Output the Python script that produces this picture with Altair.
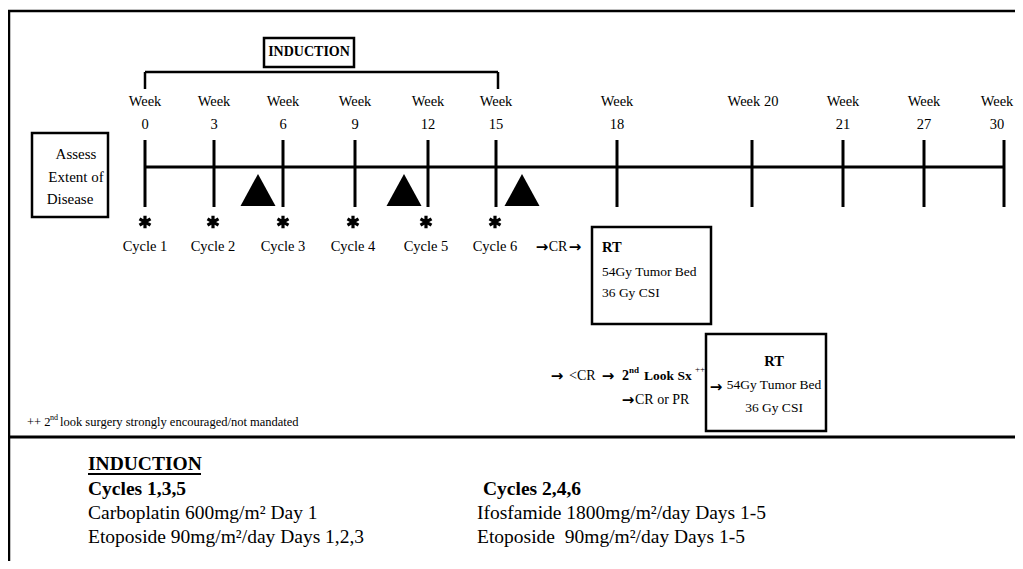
import altair as alt
import pandas as pd

# ---------------- data (diagram coordinates = reference pixels) ----------------
week_nums = ["0", "3", "6", "9", "12", "15", "18", "20", "21", "27", "30"]
week_x = [145, 214, 283, 355, 428, 496, 617, 752, 843, 924, 1004]
cycle_labels = ["Cycle 1", "Cycle 2", "Cycle 3", "Cycle 4", "Cycle 5", "Cycle 6"]
cycle_x = [145, 213, 283, 353, 426, 495]
triangle_x = [258, 404, 522]

assess_lines = ["Assess", "Extent of", "Disease"]
rt_lines = ["RT", "54Gy Tumor Bed", "36 Gy CSI"]
cycles_135 = ["Cycles 1,3,5", "Carboplatin 600mg/m² Day 1", "Etoposide 90mg/m²/day Days 1,2,3"]
cycles_246 = ["Cycles 2,4,6", "Ifosfamide 1800mg/m²/day Days 1-5", "Etoposide\u00a0 90mg/m²/day Days 1-5"]
footnote = ["++ 2", "nd", "look surgery strongly encouraged/not mandated"]

# arrows (heavy) : x centre, y
arrow_x = [542, 575, 557, 608, 628, 716]
arrow_y = [247, 247, 376, 376, 400, 387]

# ---------------- tables ----------------
rules = []  # x1, y1, x2, y2, width
rules += [(8, 11, 1023, 11, 2.5), (9, 11, 9, 569, 2.5), (9, 437, 1023, 437, 3)]
rules += [(week_x[0], 167, week_x[-1], 167, 3)]
rules += [(wx, 140, wx, 207, 3) for wx in week_x]
rules += [(145, 72, 498, 72, 2.5), (145, 72, 145, 89, 2.5), (498, 72, 498, 89, 2.5)]
rules += [(88, 474, 201, 474, 2)]
rules_df = pd.DataFrame(rules, columns=["x1", "y1", "x2", "y2", "w"])

boxes_df = pd.DataFrame(
    [(264, 38, 354, 67), (32, 133, 108, 217), (592, 227, 711, 324), (706, 334, 826, 431)],
    columns=["x1", "y1", "x2", "y2"],
)

star_df = pd.DataFrame({"x": cycle_x, "y": [222] * len(cycle_x)})
tri_df = pd.DataFrame({"x": triangle_x, "y": [190] * len(triangle_x)})
arrow_df = pd.DataFrame({"x": arrow_x, "y": arrow_y, "t": ["→"] * len(arrow_x)})

texts = []  # text, x, y, size, align, bold
for n, wx in zip(week_nums, week_x):
    lx = 997 if n == "30" else wx
    if n == "20":
        texts.append(("Week 20", 753, 102, 14.5, "center", False))
    else:
        texts.append(("Week", lx, 102, 14.5, "center", False))
        texts.append((n, lx, 125, 14.5, "center", False))
for c, cx in zip(cycle_labels, cycle_x):
    texts.append((c, cx, 247, 14.5, "center", False))
for t, (ax, ay) in zip(assess_lines, [(76, 154), (76, 177), (70, 199)]):
    texts.append((t, ax, ay, 15, "center", False))
texts.append(("INDUCTION", 309, 52, 14, "center", True))
texts.append(("CR", 558, 247, 14, "center", False))
# RT box 1
texts.append((rt_lines[0], 602, 248, 14.5, "left", True))
texts.append((rt_lines[1], 602, 272, 13.5, "left", False))
texts.append((rt_lines[2], 602, 293, 13.5, "left", False))
# second-look row
texts.append(("<CR", 569, 376, 14, "left", False))
texts.append(("2", 622, 376, 14, "left", True))
texts.append(("nd", 629, 370, 9, "left", True))
texts.append(("Look Sx", 644, 376, 13.5, "left", True))
texts.append(("++", 695, 369, 9, "left", False))
texts.append(("CR or PR", 635, 400, 14, "left", False))
# RT box 2
texts.append((rt_lines[0], 774, 362, 14.5, "center", True))
texts.append((rt_lines[1], 774, 385, 13.5, "center", False))
texts.append((rt_lines[2], 774, 408, 13.5, "center", False))
# footnote
texts.append((footnote[0], 27, 422, 12.5, "left", False))
texts.append((footnote[1], 50, 418, 8, "left", False))
texts.append((footnote[2], 60, 422, 12.5, "left", False))
# bottom regimen
texts.append(("INDUCTION", 88, 464, 19.5, "left", True))
for i, ty in enumerate([489, 513, 537]):
    texts.append((cycles_135[i], 88, ty, 19.5, "left", i == 0))
    texts.append((cycles_246[i], 483 if i == 0 else 477, ty, 19.5, "left", i == 0))
text_df = pd.DataFrame(texts, columns=["t", "x", "y", "s", "align", "bold"])

# ---------------- chart ----------------
xs = alt.Scale(domain=[8, 1015], nice=False, zero=False)
ys = alt.Scale(domain=[8, 561], nice=False, zero=False, reverse=True)

X = lambda f: alt.X(f, type="quantitative", scale=xs, axis=None)
Y = lambda f: alt.Y(f, type="quantitative", scale=ys, axis=None)

rule_layer = alt.Chart(rules_df).mark_rule(color="black", strokeCap="butt").encode(
    x=X("x1"), y=Y("y1"), x2="x2", y2="y2",
    strokeWidth=alt.StrokeWidth("w:Q", scale=None, legend=None),
)

box_layer = alt.Chart(boxes_df).mark_rect(fill="white", stroke="black", strokeWidth=2.5).encode(
    x=X("x1"), y=Y("y1"), x2="x2", y2="y2"
)

ASTERISK = "M0,-1L0,1M-0.87,-0.5L0.87,0.5M-0.87,0.5L0.87,-0.5"
star_layer = alt.Chart(star_df).mark_point(
    shape=ASTERISK, filled=False, stroke="black", strokeWidth=3.2, size=160, opacity=1
).encode(x=X("x"), y=Y("y"))

TRI = "M0,-0.92L1,0.92L-1,0.92Z"
tri_layer = alt.Chart(tri_df).mark_point(
    shape=TRI, filled=True, fill="black", strokeWidth=0, size=1225, opacity=1
).encode(x=X("x"), y=Y("y"))

arrow_layer = alt.Chart(arrow_df).mark_text(
    align="center", baseline="middle", font="DejaVu Sans", fontWeight="bold",
    fontSize=15, color="black",
).encode(x=X("x"), y=Y("y"), text="t:N")


def text_layer(align, bold):
    df = text_df[(text_df["align"] == align) & (text_df["bold"] == bold)]
    return alt.Chart(df).mark_text(
        align=align, baseline="middle", font="Liberation Serif",
        fontWeight="bold" if bold else "normal", color="black",
    ).encode(
        x=X("x"), y=Y("y"), text="t:N",
        size=alt.Size("s:Q", scale=None, legend=None),
    )


chart = alt.layer(
    rule_layer, box_layer, star_layer, tri_layer, arrow_layer,
    text_layer("center", False), text_layer("center", True),
    text_layer("left", False), text_layer("left", True),
).properties(
    width=1007, height=553,
    autosize=alt.AutoSizeParams(type="none"), padding=0,
    background="white",
).configure_view(strokeWidth=0)

chart.save("out.html", embed_options={"renderer": "svg", "actions": False})
